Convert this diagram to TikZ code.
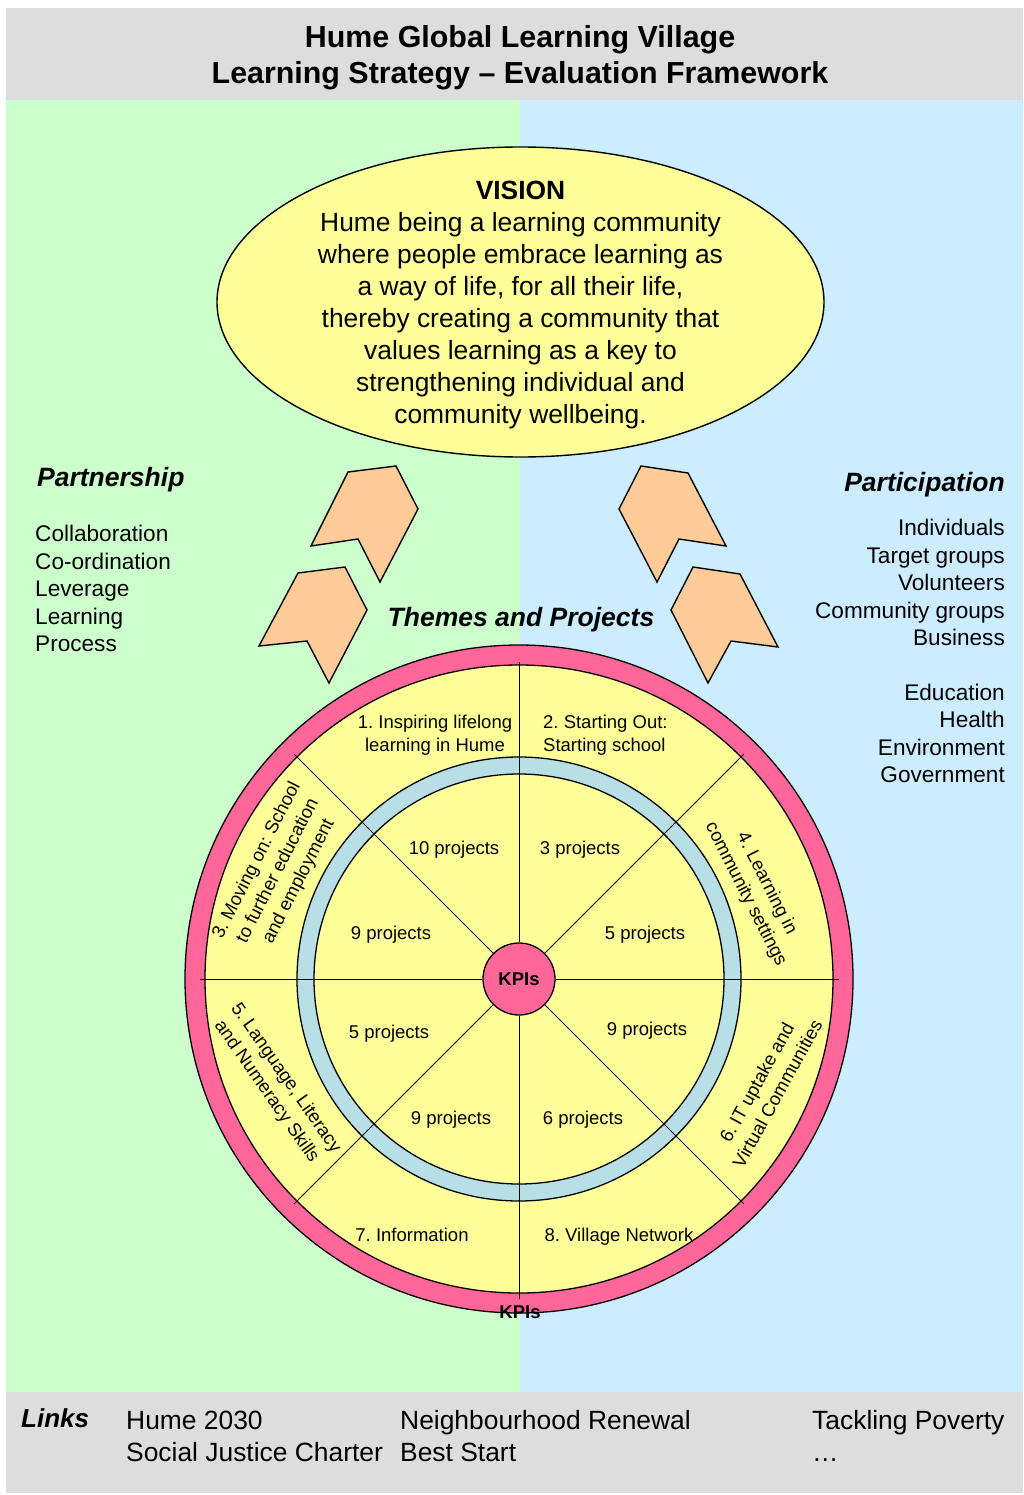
\documentclass[tikz,border=0pt]{standalone}
\usepackage{fontspec}
\setmainfont{Liberation Sans}
\usetikzlibrary{shapes.geometric,calc}
\definecolor{bggreen}{HTML}{CCFFCC}
\definecolor{bgblue}{HTML}{CCECFF}
\definecolor{bggray}{HTML}{DDDDDD}
\definecolor{vyellow}{HTML}{FFFF99}
\definecolor{kpipink}{HTML}{FF6699}
\definecolor{ringblue}{HTML}{B8DEE6}
\definecolor{arroworange}{HTML}{FFCC99}
\newcommand\myfs[2]{\fontsize{#1}{#2}\selectfont}
\frenchspacing
\begin{document}
\frenchspacing
\begin{tikzpicture}[x=1pt,y=-1pt,
  arrowshape/.style={draw=black, fill=arroworange, line width=1.4pt, line join=miter},
  ringline/.style={draw=black, line width=1.3pt},
  spoke/.style={draw=black, line width=1pt},
  wheeltext/.style={inner sep=0pt, font=\myfs{18.5}{23.5}},
  projtext/.style={inner sep=0pt, anchor=base, font=\myfs{18.5}{23}},
  sidetext/.style={inner sep=0pt, font=\myfs{22.6}{27.5}},
  linktext/.style={inner sep=0pt, anchor=base west, font=\myfs{26.4}{32}},
  headtext/.style={inner sep=0pt, font=\myfs{26.5}{32}\bfseries\itshape}
]
\useasboundingbox (0,0) rectangle (1023,1495);
% backgrounds
\fill[bggray] (6,8) rectangle (1023,100);
\fill[bggreen] (6,100) rectangle (520,1392);
\fill[bgblue] (520,100) rectangle (1023,1392);
\fill[bggray] (6,1392) rectangle (1023,1493);

% title
\node[inner sep=0pt, anchor=base, font=\myfs{30.4}{36}\bfseries] (title1) at (520,47.5) {Hume Global Learning Village};
\node[inner sep=0pt, anchor=base, font=\myfs{30.4}{36}\bfseries] (title2) at (520,84) {Learning Strategy -- Evaluation Framework};

% vision ellipse
\node[ellipse, draw=black, line width=1.4pt, fill=vyellow, minimum width=607, minimum height=310, inner sep=0pt] (vision) at (520.5,302) {};
\node[inner sep=0pt, align=center, font=\myfs{26.4}{32}] (visiontext) at (520.5,305)
  {\textbf{VISION}\\Hume being a learning community\\where people embrace learning as\\a way of life, for all their life,\\thereby creating a community that\\values learning as a key to\\strengthening individual and\\community wellbeing.};

% partnership
\node[headtext, anchor=base west] (partnership) at (37,486) {Partnership};
\node[sidetext, anchor=base west] (p1) at (35,541) {Collaboration};
\node[sidetext, anchor=base west] (p2) at (35,569) {Co-ordination};
\node[sidetext, anchor=base west] (p3) at (35,596) {Leverage};
\node[sidetext, anchor=base west] (p4) at (35,624) {Learning};
\node[sidetext, anchor=base west] (p5) at (35,651) {Process};

% participation
\node[headtext, anchor=base east] (participation) at (1005,491) {Participation};
\node[sidetext, anchor=base east] (q1) at (1005,535) {Individuals};
\node[sidetext, anchor=base east] (q2) at (1005,563) {Target groups};
\node[sidetext, anchor=base east] (q3) at (1005,590) {Volunteers};
\node[sidetext, anchor=base east] (q4) at (1005,618) {Community groups};
\node[sidetext, anchor=base east] (q5) at (1005,645) {Business};
\node[sidetext, anchor=base east] (q6) at (1005,700) {Education};
\node[sidetext, anchor=base east] (q7) at (1005,727) {Health};
\node[sidetext, anchor=base east] (q8) at (1005,755) {Environment};
\node[sidetext, anchor=base east] (q9) at (1005,782) {Government};

\node[headtext, anchor=base] (themes) at (521,626) {Themes and Projects};

% arrows
\draw[arrowshape] (348,472) -- (396,466) -- (418,509) -- (380,582) -- (358,539) -- (311,546) -- cycle;
\draw[arrowshape] (298,573) -- (345,567) -- (367,610) -- (329,683) -- (307,641) -- (259,646) -- cycle;
\draw[arrowshape] (641,466) -- (688,473) -- (726,546) -- (679,539) -- (657,582) -- (619,509) -- cycle;
\draw[arrowshape] (693,567) -- (740,574) -- (778,647) -- (731,641) -- (708,683) -- (671,610) -- cycle;

% wheel
\coordinate (c) at (519,979);
\draw[ringline, fill=kpipink] (c) circle[radius=334];
\draw[ringline, fill=vyellow] (c) circle[radius=314];
\draw[ringline, fill=ringblue] (c) circle[radius=222];
\draw[ringline, fill=vyellow] (c) circle[radius=205];

\node[circle, draw=black, line width=1.3pt, fill=kpipink, minimum size=72, inner sep=0pt, font=\myfs{18.5}{22}\bfseries] (kpi) at (c) {KPIs};
\foreach \a/\r in {0/320, 45/318, 90/320, 135/318, 180/319, 225/318, 270/317, 315/318} {
  \coordinate (s\a) at ($(c)+(\a:\r)$);
}
\foreach \a in {0,45,90,135,180,225,270,315} {
  \draw[spoke] (kpi) -- (s\a);
}

% outer segment labels
\node[wheeltext, align=center] (t1) at (435,735) {1. Inspiring lifelong\\learning in Hume};
\node[wheeltext, align=left, anchor=west] (t2) at (543,735) {2. Starting Out:\\Starting school};
\node[wheeltext, align=center, rotate=63] (t3) at (278,871) {3. Moving on: School\\to further education\\and employment};
\node[wheeltext, align=center, rotate=-63] (t4) at (756,889) {4. Learning in\\community settings};
\node[wheeltext, align=center, rotate=-55] (t5) at (276,1085) {5. Language, Literacy\\and Numeracy Skills};
\node[wheeltext, align=center, rotate=61] (t6) at (767,1088) {6. IT uptake and\\Virtual Communities};
\node[projtext] (t7) at (412,1241) {7. Information};
\node[projtext] (t8) at (619,1241) {8. Village Network};

% project counts
\node[projtext] (n1) at (454,854) {10 projects};
\node[projtext] (n2) at (580,854) {3 projects};
\node[projtext] (n3) at (391,939) {9 projects};
\node[projtext] (n4) at (645,939) {5 projects};
\node[projtext] (n5) at (389,1038) {5 projects};
\node[projtext] (n6) at (647,1035) {9 projects};
\node[projtext] (n7) at (451,1124) {9 projects};
\node[projtext] (n8) at (583,1124) {6 projects};

\node[inner sep=0pt, anchor=base, font=\myfs{18.5}{22}\bfseries] (kpib) at (520,1318) {KPIs};

% links
\node[inner sep=0pt, anchor=base west, font=\myfs{26}{32}\bfseries\itshape] (links) at (21,1427) {Links};
\node[linktext] (l1) at (126,1429) {Hume 2030};
\node[linktext] (l2) at (126,1461) {Social Justice Charter};
\node[linktext] (l3) at (400,1429) {Neighbourhood Renewal};
\node[linktext] (l4) at (400,1461) {Best Start};
\node[linktext] (l5) at (812,1429) {Tackling Poverty};
\node[linktext] (l6) at (812,1461) {\dots};
\end{tikzpicture}
\end{document}
